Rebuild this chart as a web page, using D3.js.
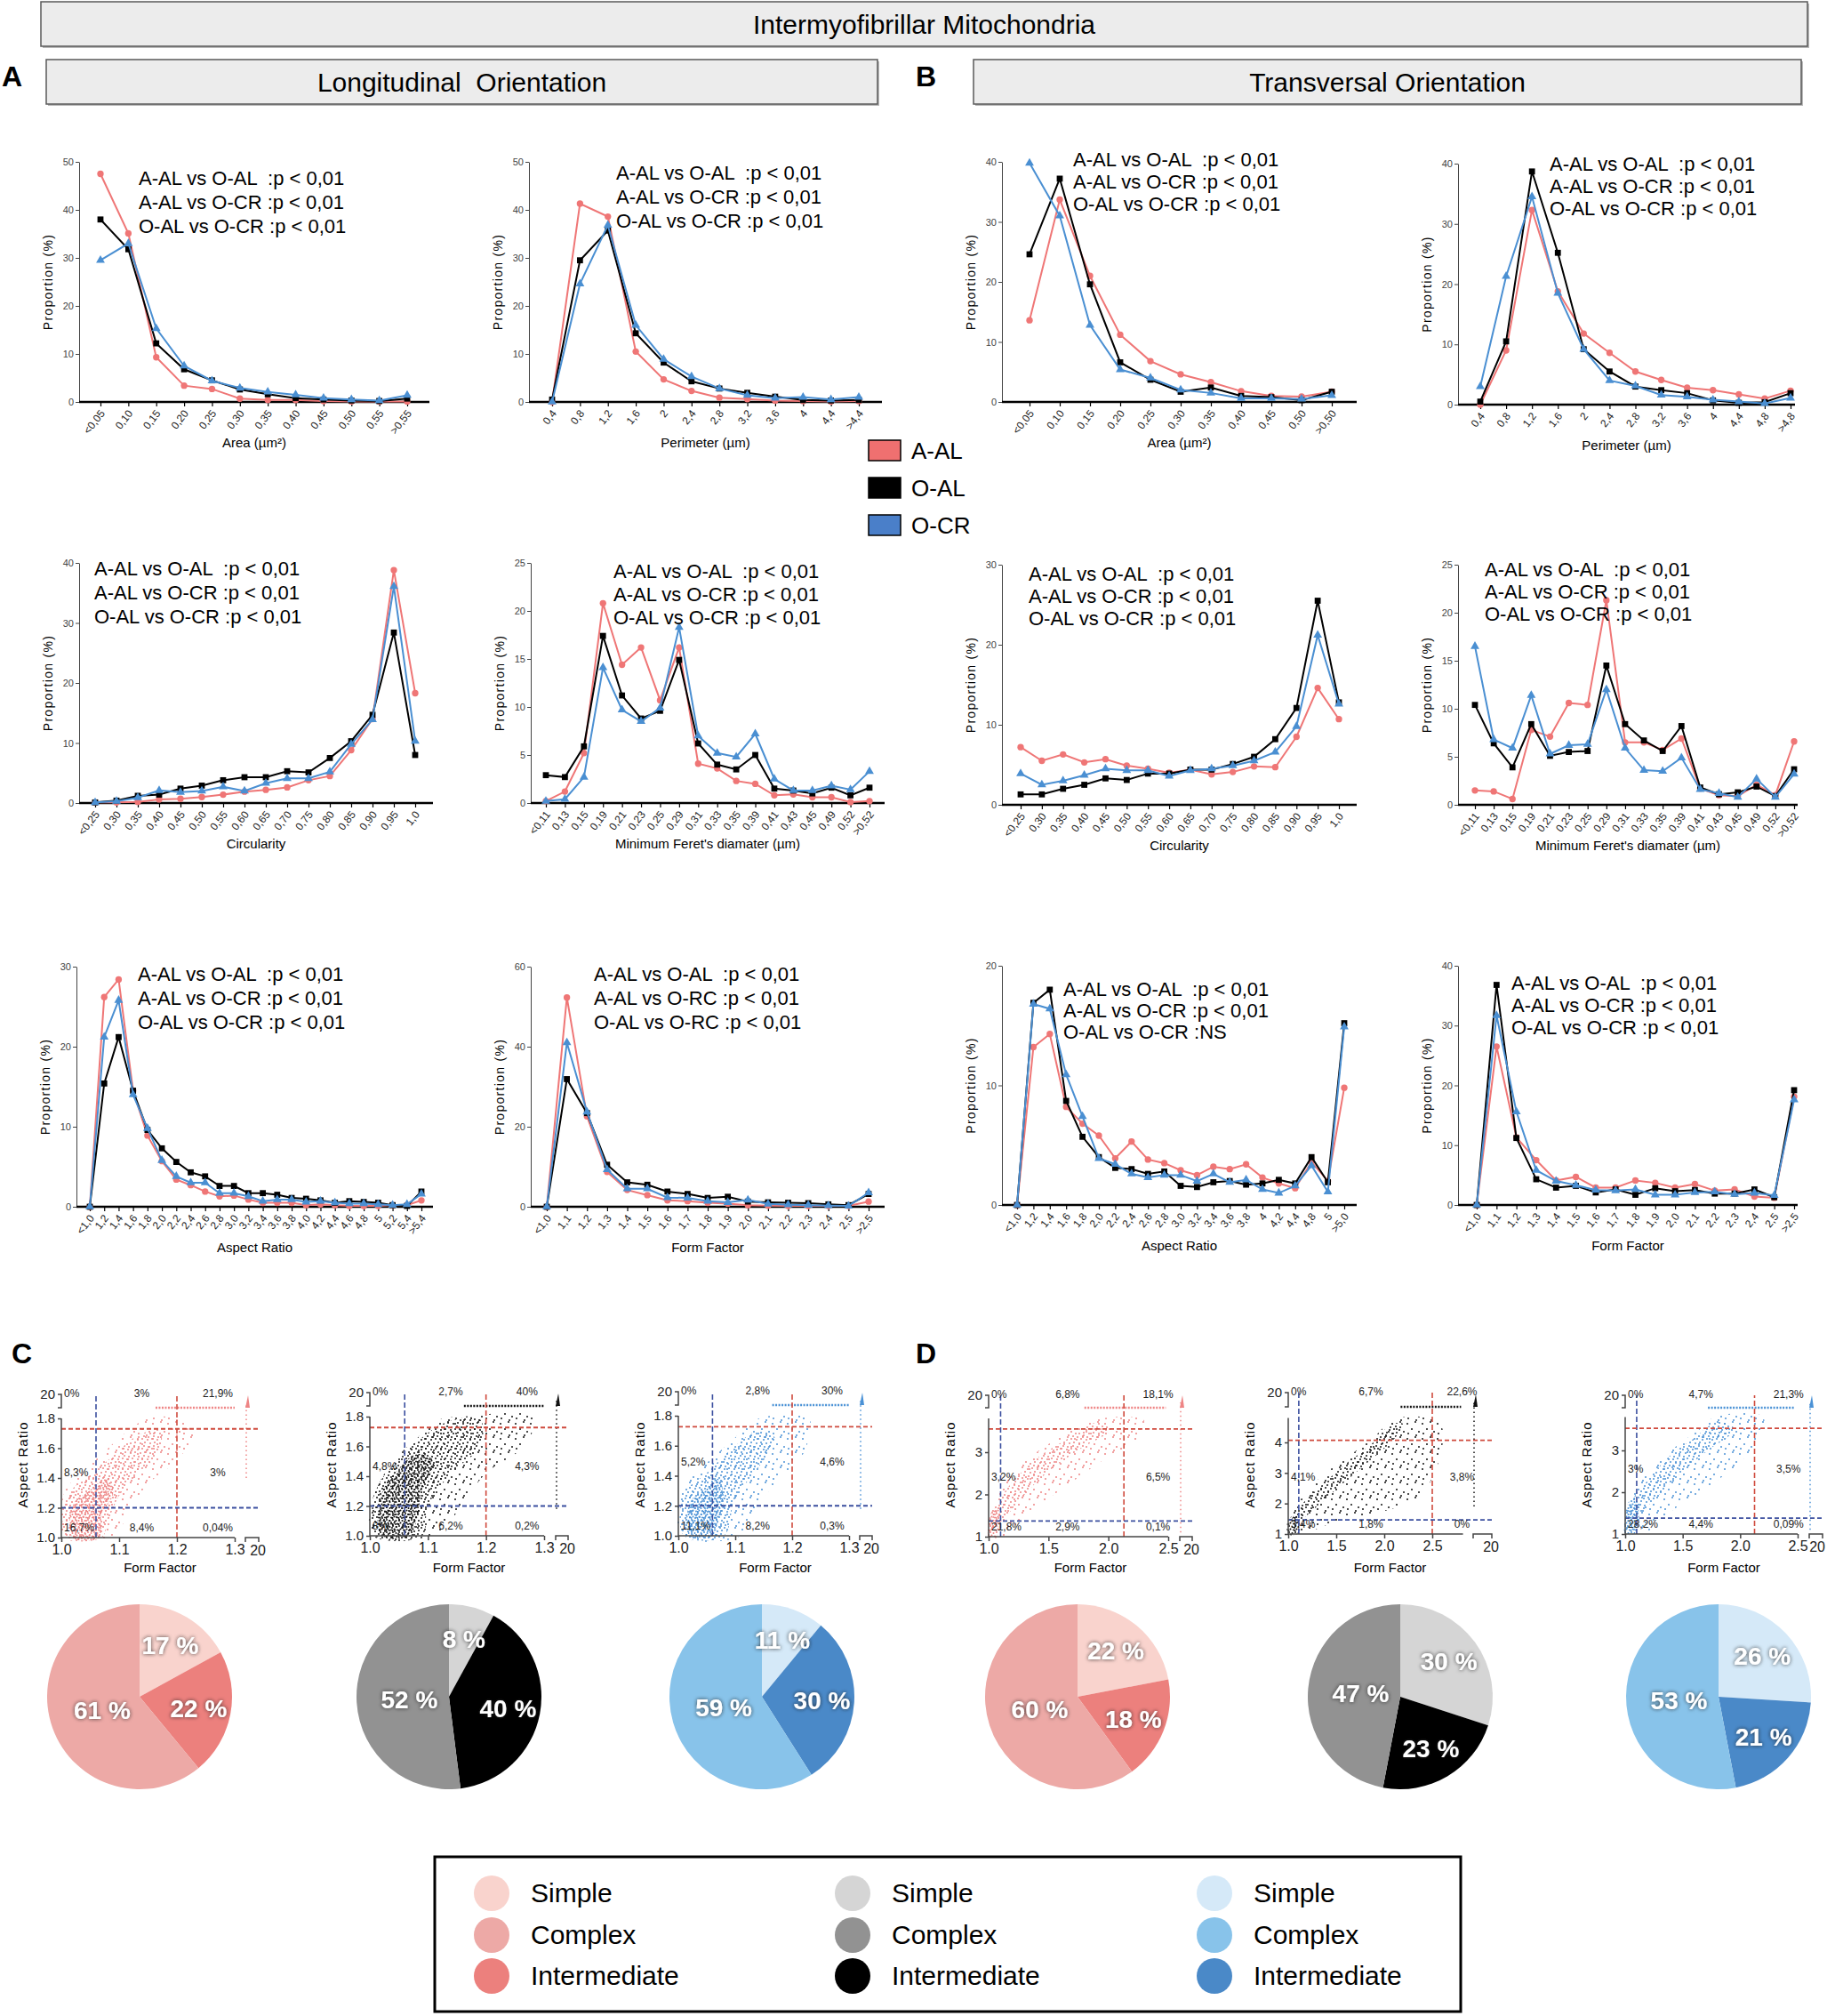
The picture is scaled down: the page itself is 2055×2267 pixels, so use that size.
<!DOCTYPE html>
<html>
<head>
<meta charset="utf-8">
<title>Intermyofibrillar Mitochondria</title>
<script src="https://cdn.jsdelivr.net/npm/d3@7"></script>
<style>
  body { margin: 0; background: #fff; overflow: hidden; }
  text { font-family: "Liberation Sans", Arial, Helvetica, sans-serif; }
</style>
</head>
<body>
<div class="figure"></div>
<script>
// ---------------- data ----------------
const groups = ["A-AL", "O-AL", "O-CR"];

// category labels (x ticks)
const areaLongCats = ["<0,05","0,10","0,15","0,20","0,25","0,30","0,35","0,40","0,45","0,50","0,55",">0,55"];
const areaTransCats = ["<0,05","0,10","0,15","0,20","0,25","0,30","0,35","0,40","0,45","0,50",">0,50"];
const perimLongCats = ["0,4","0,8","1,2","1,6","2","2,4","2,8","3,2","3,6","4","4,4",">4,4"];
const perimTransCats = ["0,4","0,8","1,2","1,6","2","2,4","2,8","3,2","3,6","4","4,4","4,8",">4,8"];
const circCats = ["<0,25","0,30","0,35","0,40","0,45","0,50","0,55","0,60","0,65","0,70","0,75","0,80","0,85","0,90","0,95","1,0"];
const feretCats = ["<0,11","0,13","0,15","0,19","0,21","0,23","0,25","0,29","0,31","0,33","0,35","0,39","0,41","0,43","0,45","0,49","0,52",">0,52"];
const arLongCats = ["<1,0","1,2","1,4","1,6","1,8","2,0","2,2","2,4","2,6","2,8","3,0","3,2","3,4","3,6","3,8","4,0","4,2","4,4","4,6","4,8","5","5,2","5,4",">5,4"];
const arTransCats = ["<1,0","1,2","1,4","1,6","1,8","2,0","2,2","2,4","2,6","2,8","3,0","3,2","3,4","3,6","3,8","4","4,2","4,4","4,8","5",">5,0"];
const ffCats = ["<1,0","1,1","1,2","1,3","1,4","1,5","1,6","1,7","1,8","1,9","2,0","2,1","2,2","2,3","2,4","2,5",">2,5"];

// proportions (%) - longitudinal
const areaLongAAL = [47.5,35.1,9.3,3.4,2.7,0.7,0.4,0.4,0.2,0.1,0.1,0.1];
const areaLongOAL = [38,31.8,12.2,6.8,4.5,2.6,1.6,0.8,0.5,0.3,0.2,0.7];
const areaLongOCR = [29.5,33,15.3,7.5,4.4,2.9,2.1,1.5,0.8,0.5,0.3,1.4];
const perimLongAAL = [0,41.3,38.6,10.5,4.7,2.3,0.9,0.6,0.3,0.2,0.1,0.2];
const perimLongOAL = [0.5,29.5,35.7,14.3,8.2,4.3,2.8,1.9,1.1,0.4,0.3,0.4];
const perimLongOCR = [0,24.6,36.8,16,8.9,5.3,2.8,1.4,0.8,1.0,0.5,1.0];
const circLongAAL = [0.1,0.1,0.2,0.6,0.7,1.0,1.4,1.9,2.2,2.6,3.8,4.5,8.8,14.0,38.8,18.3];
const circLongOAL = [0.1,0.4,1.2,1.4,2.4,2.9,3.8,4.3,4.3,5.3,5.1,7.5,10.3,14.7,28.4,8.0];
const circLongOCR = [0.1,0.3,0.9,2.1,1.8,2.0,2.7,2.0,3.3,4.1,4.1,5.2,9.8,13.9,36.1,10.3];
const feretLongAAL = [0.2,1.2,5.2,20.8,14.4,16.2,10.7,16.2,4.1,3.6,2.3,2.0,0.8,0.9,0.6,0.6,0.1,0.2];
const feretLongOAL = [2.9,2.7,5.9,17.4,11.2,8.8,9.6,14.9,6.2,4.0,3.5,5.0,1.5,1.3,1.0,1.6,0.8,1.6];
const feretLongOCR = [0.2,0.4,2.7,14.1,9.7,8.5,9.9,18.3,7.0,5.2,4.8,7.2,2.5,1.3,1.3,1.8,1.4,3.3];
const arLongAAL = [0,26.2,28.4,14.5,8.9,5.7,3.4,2.7,1.9,1.3,1.4,0.9,0.5,0.5,0.5,0.2,0.3,0.2,0.1,0.1,0.1,0.2,0.2,0.8];
const arLongOAL = [0,15.4,21.2,14.5,9.6,7.3,5.6,4.3,3.8,2.6,2.6,1.7,1.7,1.5,1.1,1.0,0.8,0.5,0.7,0.6,0.5,0.2,0.1,1.9];
const arLongOCR = [0,21.2,25.8,14.0,9.8,5.8,3.8,3.0,3.0,1.7,1.7,1.3,0.7,0.9,0.9,0.6,0.7,0.5,0.4,0.4,0.3,0.2,0.3,1.6];
const ffLongAAL = [0,52.3,22.6,8.7,4.2,2.9,1.6,1.4,1.0,0.8,0.4,0.3,0.2,0.2,0.2,0.2,1.3];
const ffLongOAL = [0,31.9,23.4,10.5,6.1,5.5,3.8,3.2,2.2,2.5,1.3,1.1,1.0,0.9,0.6,0.4,3.2];
const ffLongOCR = [0,41,23.7,9.3,4.5,4.5,2.3,2.2,1.4,1.1,1.7,0.7,0.5,0.4,0.3,0.2,3.5];

// proportions (%) - transversal
const areaTransAAL = [13.6,33.7,21,11.2,6.8,4.6,3.3,1.8,1.0,0.9,1.7];
const areaTransOAL = [24.6,37.2,19.6,6.6,3.7,1.7,2.4,1.0,0.8,0.3,1.7];
const areaTransOCR = [39.8,31,12.8,5.4,4.0,2.0,1.5,0.6,0.6,0.5,1.1];
const perimTransAAL = [0,9,32.3,18.8,11.8,8.6,5.5,4.1,2.8,2.4,1.7,1.0,2.3];
const perimTransOAL = [0.5,10.5,38.7,25.2,9.2,5.5,3.0,2.4,1.9,0.7,0.3,0.4,1.9];
const perimTransOCR = [3.0,21.3,34.5,18.5,9.2,4.0,3.1,1.6,1.3,0.8,0.5,0.2,1.1];
const circTransAAL = [7.2,5.5,6.3,5.3,5.7,4.9,4.5,4.0,4.4,3.8,4.1,4.8,4.7,8.5,14.6,10.7];
const circTransOAL = [1.3,1.3,2.0,2.5,3.3,3.1,3.9,3.9,4.4,4.4,5.1,6.0,8.2,12.1,25.5,12.8];
const circTransOCR = [3.9,2.5,3.0,3.7,4.5,4.3,4.3,3.6,4.3,4.5,4.9,5.5,6.6,9.8,21.2,12.6];
const feretTransAAL = [1.5,1.4,0.6,7.8,7.1,10.6,10.4,21.3,6.5,6.5,5.7,6.9,1.7,1.0,0.9,2.1,1.0,6.6];
const feretTransOAL = [10.4,6.4,3.9,8.4,5.1,5.5,5.6,14.5,8.4,6.7,5.6,8.2,1.8,1.1,1.3,1.9,0.9,3.7];
const feretTransOCR = [16.5,6.8,5.9,11.4,5.3,6.2,6.3,12.0,5.9,3.6,3.5,4.9,1.6,1.2,0.8,2.7,0.8,3.2];
const arTransAAL = [0,13.2,14.3,8.2,6.8,5.8,3.9,5.3,3.8,3.5,2.9,2.5,3.2,3.0,3.4,2.3,1.8,1.4,3.6,2.0,9.8];
const arTransOAL = [0,16.9,18.0,8.7,5.7,4.0,3.1,3.0,2.6,2.8,1.6,1.5,1.9,2.0,1.7,1.8,2.1,1.8,4.0,1.9,15.2];
const arTransOCR = [0,16.8,16.4,10.9,7.4,3.9,3.4,2.6,2.3,2.5,2.5,2.0,2.6,1.9,2.1,1.3,1.0,1.6,3.3,1.1,14.9];
const ffTransAAL = [0,26.5,11.3,7.5,4.1,4.7,2.9,2.9,4.1,3.7,2.9,3.5,2.4,2.6,1.4,1.2,18.1];
const ffTransOAL = [0,36.8,11.2,4.3,2.9,3.2,2.1,2.6,1.7,2.8,2.3,2.5,1.9,1.9,2.6,1.3,19.2];
const ffTransOCR = [0,31.7,15.6,5.8,4.0,3.3,2.5,2.4,2.6,1.7,1.7,2.1,2.2,1.8,2.0,1.6,17.6];

// y tick values
const ticks50 = [0,10,20,30,40,50];
const ticks40 = [0,10,20,30,40];
const ticks30 = [0,10,20,30];
const ticks25 = [0,5,10,15,20,25];
const ticks60 = [0,20,40,60];
const ticks20 = [0,10,20];

// statistics notes
const notesStd = ["A-AL vs O-AL  :p < 0,01", "A-AL vs O-CR :p < 0,01", "O-AL vs O-CR :p < 0,01"];
const notesRC = ["A-AL vs O-AL  :p < 0,01", "A-AL vs O-RC :p < 0,01", "O-AL vs O-RC :p < 0,01"];
const notesNS = ["A-AL vs O-AL  :p < 0,01", "A-AL vs O-CR :p < 0,01", "O-AL vs O-CR :NS"];

// scatter plots (Form Factor vs Aspect Ratio), C1-C3 then D1-D3
const scatXTicks = [[1.0,1.1,1.2,1.3],[1.0,1.1,1.2,1.3],[1.0,1.1,1.2,1.3],[1.0,1.5,2.0,2.5],[1.0,1.5,2.0,2.5],[1.0,1.5,2.0,2.5]];
const scatYTicks = [[1.0,1.2,1.4,1.6,1.8],[1.0,1.2,1.4,1.6,1.8],[1.0,1.2,1.4,1.6,1.8],[1,2,3],[1,2,3,4],[1,2,3]];
const scatThreshFF = [[1.06,1.2],[1.06,1.2],[1.06,1.2],[1.1,2.13],[1.11,2.5],[1.1,2.125]];
const scatThreshAR = [[1.2,1.73],[1.2,1.727],[1.2,1.727],[1.37,3.55],[1.46,4.07],[1.38,3.53]];
const scatPct = [
  ["0%","3%","21,9%","8,3%","3%","16,7%","8,4%","0,04%"],
  ["0%","2,7%","40%","4,8%","4,3%","8%","6,2%","0,2%"],
  ["0%","2,8%","30%","5,2%","4,6%","11,1%","8,2%","0,3%"],
  ["0%","6,8%","18,1%","3,2%","6,5%","21,8%","2,9%","0,1%"],
  ["0%","6,7%","22,6%","4,1%","3,8%","3,4%","1,8%","0%"],
  ["0%","4,7%","21,3%","3%","3,5%","28,2%","4,4%","0,09%"]
];
// FF range of the points beyond the AR break, AR floor of the points beyond the FF break
const scatTopFF = [[1.163,1.3],[1.162,1.3],[1.165,1.3],[1.8,2.48],[2.17,2.8],[1.72,2.47]];
const scatRightAR = [1.4,1.18,1.18,1.1,1.9,1.1];
// estimated outlines of the point clouds [FF, AR]: sparse, medium and dense parts
const cloudOuter = [
  [[1.005,1.0],[1.005,1.3],[1.03,1.42],[1.07,1.56],[1.11,1.7],[1.15,1.8],[1.2,1.8],[1.23,1.7],[1.2,1.52],[1.15,1.36],[1.12,1.2],[1.10,1.05],[1.08,1.0]],
  [[1.005,1.0],[1.005,1.25],[1.04,1.5],[1.08,1.65],[1.12,1.78],[1.16,1.8],[1.28,1.8],[1.27,1.62],[1.2,1.42],[1.16,1.22],[1.13,1.05],[1.11,1.0]],
  [[1.005,1.0],[1.005,1.3],[1.04,1.45],[1.09,1.62],[1.14,1.78],[1.18,1.8],[1.23,1.78],[1.22,1.55],[1.17,1.35],[1.13,1.15],[1.11,1.0]],
  [[1.0,1.0],[1.0,1.4],[1.06,1.9],[1.2,2.5],[1.4,3.0],[1.65,3.45],[1.85,3.75],[2.3,3.75],[2.25,3.3],[1.95,2.8],[1.65,2.2],[1.35,1.6],[1.2,1.2],[1.12,1.0]],
  [[1.0,1.0],[1.0,1.5],[1.12,2.1],[1.35,2.9],[1.65,3.6],[1.9,4.2],[2.1,4.75],[2.45,4.8],[2.6,4.5],[2.55,3.2],[2.35,2.2],[1.95,1.7],[1.45,1.35],[1.15,1.0]],
  [[1.0,1.0],[1.0,1.45],[1.07,2.0],[1.22,2.55],[1.42,3.05],[1.62,3.45],[1.78,3.8],[2.2,3.8],[2.15,3.2],[1.95,2.6],[1.65,2.0],[1.38,1.5],[1.22,1.1],[1.12,1.0]]
];
const cloudMid = [
  [[1.01,1.0],[1.01,1.28],[1.05,1.42],[1.09,1.55],[1.13,1.68],[1.17,1.72],[1.17,1.58],[1.13,1.42],[1.1,1.28],[1.08,1.1],[1.07,1.0]],
  [[1.01,1.0],[1.01,1.3],[1.05,1.52],[1.09,1.66],[1.13,1.76],[1.19,1.78],[1.19,1.6],[1.14,1.42],[1.1,1.2],[1.09,1.0]],
  [[1.01,1.0],[1.01,1.28],[1.05,1.42],[1.1,1.6],[1.14,1.7],[1.17,1.65],[1.14,1.45],[1.1,1.25],[1.08,1.0]],
  [[1.02,1.2],[1.08,1.8],[1.2,2.3],[1.4,2.85],[1.65,3.3],[1.9,3.7],[2.02,3.55],[1.75,3.05],[1.48,2.5],[1.27,1.9],[1.12,1.4]],
  [[1.03,1.4],[1.15,2.0],[1.35,2.6],[1.6,3.3],[1.85,3.9],[2.08,4.6],[2.2,4.6],[2.1,4.1],[1.85,3.4],[1.55,2.6],[1.3,1.9],[1.12,1.45]],
  [[1.02,1.3],[1.08,1.9],[1.2,2.3],[1.38,2.85],[1.58,3.25],[1.82,3.7],[1.95,3.5],[1.72,3.0],[1.48,2.45],[1.28,1.9],[1.13,1.5]]
];
const cloudCore = [
  [[1.02,1.0],[1.02,1.22],[1.05,1.32],[1.08,1.4],[1.09,1.3],[1.07,1.15],[1.065,1.0]],
  [[1.02,1.0],[1.02,1.28],[1.05,1.45],[1.08,1.55],[1.11,1.5],[1.09,1.3],[1.08,1.1],[1.07,1.0]],
  [[1.02,1.0],[1.02,1.22],[1.05,1.32],[1.07,1.38],[1.08,1.25],[1.07,1.1],[1.06,1.0]],
  [[1.0,1.0],[1.0,1.3],[1.04,1.65],[1.1,1.6],[1.09,1.25],[1.06,1.0]],
  [[1.0,1.0],[1.0,1.35],[1.04,1.6],[1.1,1.55],[1.12,1.25],[1.1,1.0]],
  [[1.0,1.0],[1.0,1.4],[1.04,1.8],[1.1,1.75],[1.12,1.35],[1.08,1.0]]
];

// pie charts: Simple, Intermediate, Complex (%)
const pieNames = ["Simple", "Intermediate", "Complex"];
const pieC = [[17,22,61],[8,40,52],[11,30,59]];
const pieD = [[22,18,60],[30,23,47],[26,21,53]];
const legendNames = ["Simple", "Complex", "Intermediate"];

// ---------------- drawing ----------------
const W = 2055, H = 2267;
const svg = d3.select(".figure").append("svg")
  .attr("width", W).attr("height", H)
  .style("background-color", "white");

const seriesColor = ["#ef7676", "#000000", "#4a8fd2"];
const scatColor = ["#ee8585", "#111111", "#4b92d6"];
const pieFill = [
  ["#f9d3cd", "#ec807d", "#eda9a6"],
  ["#d5d5d5", "#000000", "#929292"],
  ["#d5e9f8", "#4a89c8", "#88c3ea"]
];

const defs = svg.append("defs");
defs.append("filter").attr("id", "glow")
  .attr("x", "-30%").attr("y", "-30%").attr("width", "160%").attr("height", "160%")
  .append("feDropShadow")
  .attr("dx", 0).attr("dy", 0).attr("stdDeviation", 2.2)
  .attr("flood-color", "#222").attr("flood-opacity", 0.85);

// dotted fills for the scatter clouds
const tiles = [
  { size: 17, r: 1.0, pts: [[2,3],[11,1],[7,9],[15,12],[3,14],[12,16]] },
  { size: 11, r: 1.0, pts: [[1,2],[6,1],[4,6],[9,5],[2,10],[8,9]] },
  { size: 7, r: 1.0, pts: [[1,1],[4.5,2],[2.5,4.5],[6,5.5],[0.5,6]] }
];
scatColor.forEach((c, ci) => tiles.forEach((t, ti) => {
  const pat = defs.append("pattern").attr("id", "dots" + ci + ti)
    .attr("patternUnits", "userSpaceOnUse")
    .attr("width", t.size).attr("height", t.size);
  pat.selectAll("circle").data(t.pts).join("circle")
    .attr("cx", d => d[0]).attr("cy", d => d[1]).attr("r", t.r).attr("fill", c);
}));

// header boxes
function headerBox(x, y, w, h, label, size) {
  svg.append("rect").attr("x", x + 2).attr("y", y + 2).attr("width", w).attr("height", h).attr("fill", "#b9b9b9");
  svg.append("rect").attr("x", x).attr("y", y).attr("width", w).attr("height", h)
    .attr("fill", "#ececec").attr("stroke", "#5a5a5a").attr("stroke-width", 1.5);
  svg.append("text").attr("x", x + w / 2).attr("y", y + h / 2 + size * 0.36)
    .attr("text-anchor", "middle").attr("font-size", size).style("white-space", "pre")
    .text(label);
}
headerBox(46, 2, 1987, 50, "Intermyofibrillar Mitochondria", 30);
headerBox(52, 67, 935, 50, "Longitudinal  Orientation", 30);
headerBox(1095, 67, 931, 50, "Transversal Orientation", 30);

[["A", 2, 97], ["B", 1030, 97], ["C", 13, 1533], ["D", 1030, 1533]].forEach(([t, x, y]) => {
  svg.append("text").attr("x", x).attr("y", y).attr("font-size", 32).attr("font-weight", "bold").text(t);
});

// ---- line charts ----
const panels = [
  { cats: areaLongCats, s: [areaLongAAL, areaLongOAL, areaLongOCR], yTicks: ticks50, x0: 89, x1: 483, p0: 113, p1: 458, yt: 182, yb: 452, title: "Area (µm²)", notes: notesStd, nx: 156, ny: 208, nd: 27 },
  { cats: perimLongCats, s: [perimLongAAL, perimLongOAL, perimLongOCR], yTicks: ticks50, x0: 595, x1: 992, p0: 621, p1: 966, yt: 182, yb: 452, title: "Perimeter (µm)", notes: notesStd, nx: 693, ny: 202, nd: 27 },
  { cats: areaTransCats, s: [areaTransAAL, areaTransOAL, areaTransOCR], yTicks: ticks40, x0: 1127, x1: 1526, p0: 1158, p1: 1498, yt: 182, yb: 452, title: "Area (µm²)", notes: notesStd, nx: 1207, ny: 187, nd: 25 },
  { cats: perimTransCats, s: [perimTransAAL, perimTransOAL, perimTransOCR], yTicks: ticks40, x0: 1640, x1: 2019, p0: 1665, p1: 2014, yt: 184, yb: 455, title: "Perimeter (µm)", notes: notesStd, nx: 1743, ny: 192, nd: 25 },
  { cats: circCats, s: [circLongAAL, circLongOAL, circLongOCR], yTicks: ticks40, x0: 89, x1: 487, p0: 107, p1: 467, yt: 633, yb: 903, title: "Circularity", notes: notesStd, nx: 106, ny: 647, nd: 27 },
  { cats: feretCats, s: [feretLongAAL, feretLongOAL, feretLongOCR], yTicks: ticks25, x0: 597, x1: 995, p0: 614, p1: 978, yt: 633, yb: 903, title: "Minimum Feret's diamater (µm)", notes: notesStd, nx: 690, ny: 650, nd: 26 },
  { cats: circCats, s: [circTransAAL, circTransOAL, circTransOCR], yTicks: ticks30, x0: 1127, x1: 1526, p0: 1148, p1: 1506, yt: 635, yb: 905, title: "Circularity", notes: notesStd, nx: 1157, ny: 653, nd: 25 },
  { cats: feretCats, s: [feretTransAAL, feretTransOAL, feretTransOCR], yTicks: ticks25, x0: 1640, x1: 2022, p0: 1659, p1: 2018, yt: 635, yb: 905, title: "Minimum Feret's diamater (µm)", notes: notesStd, nx: 1670, ny: 648, nd: 25 },
  { cats: arLongCats, s: [arLongAAL, arLongOAL, arLongOCR], yTicks: ticks30, x0: 86, x1: 487, p0: 101, p1: 474, yt: 1087, yb: 1357, title: "Aspect Ratio", notes: notesStd, nx: 155, ny: 1103, nd: 27 },
  { cats: ffCats, s: [ffLongAAL, ffLongOAL, ffLongOCR], yTicks: ticks60, x0: 597, x1: 995, p0: 615, p1: 977, yt: 1087, yb: 1357, title: "Form Factor", notes: notesRC, nx: 668, ny: 1103, nd: 27 },
  { cats: arTransCats, s: [arTransAAL, arTransOAL, arTransOCR], yTicks: ticks20, x0: 1127, x1: 1526, p0: 1144, p1: 1512, yt: 1086, yb: 1355, title: "Aspect Ratio", notes: notesNS, nx: 1196, ny: 1120, nd: 24 },
  { cats: ffCats, s: [ffTransAAL, ffTransOAL, ffTransOCR], yTicks: ticks40, x0: 1640, x1: 2022, p0: 1661, p1: 2018, yt: 1086, yb: 1355, title: "Form Factor", notes: notesStd, nx: 1700, ny: 1113, nd: 25 }
];

function lineChart(p) {
  const g = svg.append("g");
  const x = d3.scalePoint().domain(p.cats).range([p.p0, p.p1]);
  const y = d3.scaleLinear().domain([0, d3.max(p.yTicks)]).range([p.yb, p.yt]);

  // y axis
  const yAx = g.append("g").attr("transform", `translate(${p.x0},0)`)
    .call(d3.axisLeft(y).tickValues(p.yTicks).tickSize(4).tickSizeOuter(0).tickPadding(2));
  yAx.select(".domain").attr("stroke", "#444").attr("stroke-width", 1);
  yAx.selectAll(".tick line").attr("stroke", "#444");
  yAx.selectAll(".tick text").attr("font-size", 11).attr("fill", "#444");

  // x axis
  const xAx = g.append("g").attr("transform", `translate(0,${p.yb})`)
    .call(d3.axisBottom(x).tickSize(5).tickSizeOuter(0));
  xAx.select(".domain").remove();
  xAx.selectAll(".tick line").attr("stroke", "#000").attr("stroke-width", 1.2);
  xAx.selectAll(".tick text")
    .attr("x", 0).attr("y", 0).attr("dy", 0)
    .attr("transform", "translate(5,13) rotate(-52)")
    .attr("text-anchor", "end").attr("font-size", 12).attr("fill", "#222");
  g.append("line").attr("x1", p.x0).attr("x2", p.x1).attr("y1", p.yb).attr("y2", p.yb)
    .attr("stroke", "#000").attr("stroke-width", 2.5);

  // titles
  g.append("text").attr("transform", `translate(${p.x0 - 30},${(p.yt + p.yb) / 2}) rotate(-90)`)
    .attr("text-anchor", "middle").attr("font-size", 14).attr("letter-spacing", 1.3)
    .text("Proportion (%)");
  g.append("text").attr("x", (p.x0 + p.x1) / 2).attr("y", p.yb + 51)
    .attr("text-anchor", "middle").attr("font-size", 15).text(p.title);

  // series
  const line = d3.line().x((d, i) => x(p.cats[i])).y(d => y(d));
  const symbols = [d3.symbolCircle, d3.symbolSquare, d3.symbolTriangle];
  const sizes = [42, 46, 42];
  p.s.forEach((vals, k) => {
    g.append("path").datum(vals).attr("d", line)
      .attr("fill", "none").attr("stroke", seriesColor[k]).attr("stroke-width", 2);
    g.selectAll(null).data(vals).join("path")
      .attr("transform", (d, i) => `translate(${x(p.cats[i])},${y(d)})`)
      .attr("d", d3.symbol(symbols[k], sizes[k]))
      .attr("fill", seriesColor[k]);
  });

  // statistics
  g.selectAll(null).data(p.notes).join("text")
    .attr("x", p.nx).attr("y", (d, i) => p.ny + i * p.nd)
    .attr("font-size", 22).style("white-space", "pre")
    .text(d => d);
}
panels.forEach(lineChart);

// series legend
const legendFill = ["#ef7070", "#000000", "#4a7fc9"];
groups.forEach((name, i) => {
  const yy = 495 + i * 42;
  svg.append("rect").attr("x", 977).attr("y", yy).attr("width", 36).attr("height", 23)
    .attr("fill", legendFill[i]).attr("stroke", "#000").attr("stroke-width", 1.5);
  svg.append("text").attr("x", 1025).attr("y", yy + 21).attr("font-size", 26).text(name);
});

// ---- scatter plots ----
const scatLayout = [
  { x0: 69, x1: 264, xd: [1.0, 1.3], xEnd: 1.3, y0: 1729, y1: 1595, yd: [1.0, 1.8], yEnd: 1.8, bx: [276, 291], by: [1583, 1568], midY: 1660, yf: ".1f" },
  { x0: 416, x1: 612, xd: [1.0, 1.3], xEnd: 1.3, y0: 1727, y1: 1593, yd: [1.0, 1.8], yEnd: 1.8, bx: [625, 639], by: [1581, 1566], midY: 1653, yf: ".1f" },
  { x0: 763, x1: 955, xd: [1.0, 1.3], xEnd: 1.3, y0: 1727, y1: 1592, yd: [1.0, 1.8], yEnd: 1.8, bx: [967, 981], by: [1580, 1565], midY: 1648, yf: ".1f" },
  { x0: 1112, x1: 1314, xd: [1, 2.5], xEnd: 2.5, y0: 1728, y1: 1633, yd: [1, 3], yEnd: 3.8, bx: [1327, 1341], by: [1583, 1569], midY: 1665, yf: "d" },
  { x0: 1449, x1: 1611, xd: [1, 2.5], xEnd: 2.82, y0: 1725, y1: 1622, yd: [1, 4], yEnd: 4.8, bx: [1657, 1678], by: [1582, 1566], midY: 1665, yf: "d" },
  { x0: 1828, x1: 2022, xd: [1, 2.5], xEnd: 2.5, y0: 1725, y1: 1631, yd: [1, 3], yEnd: 3.8, bx: [2035, 2050], by: [1583, 1569], midY: 1656, yf: "d" }
];

function scatterPlot(L, k) {
  const g = svg.append("g");
  const ci = k % 3;
  const ax = "#444";
  const x = d3.scaleLinear().domain(L.xd).range([L.x0, L.x1]);
  const y = d3.scaleLinear().domain(L.yd).range([L.y0, L.y1]);

  // point clouds
  const cloud = d3.line().x(d => x(d[0])).y(d => y(d[1])).curve(d3.curveCatmullRomClosed);
  [cloudOuter, cloudMid, cloudCore].forEach((set, j) => {
    g.append("path").attr("d", cloud(set[k])).attr("fill", `url(#dots${ci}${j})`);
  });

  // points beyond the axis breaks
  const yTop = L.by[0], xBr = L.bx[0] + 1;
  g.append("line").attr("x1", x(scatTopFF[k][0])).attr("x2", x(scatTopFF[k][1]))
    .attr("y1", yTop).attr("y2", yTop)
    .attr("stroke", scatColor[ci]).attr("stroke-width", 2.5).attr("stroke-dasharray", "2,1.5");
  g.append("line").attr("x1", xBr).attr("x2", xBr)
    .attr("y1", y(scatRightAR[k])).attr("y2", yTop - 6)
    .attr("stroke", scatColor[ci]).attr("stroke-width", 1.5).attr("stroke-dasharray", "1.5,3.5");
  g.append("path").attr("d", `M${xBr - 1},${yTop}L${xBr + 2},${yTop - 14}L${xBr + 4},${yTop}Z`)
    .attr("fill", scatColor[ci]);

  // gates
  const blue = "#3b4f9f", red = "#cf4a3d";
  [[scatThreshFF[k][0], blue], [scatThreshFF[k][1], red]].forEach(([v, c]) => {
    g.append("line").attr("x1", x(v)).attr("x2", x(v)).attr("y1", L.y0).attr("y2", L.by[1])
      .attr("stroke", c).attr("stroke-width", 1.6).attr("stroke-dasharray", "6,3");
  });
  [[scatThreshAR[k][0], blue], [scatThreshAR[k][1], red]].forEach(([v, c]) => {
    g.append("line").attr("x1", L.x0).attr("x2", L.bx[1]).attr("y1", y(v)).attr("y2", y(v))
      .attr("stroke", c).attr("stroke-width", 1.8).attr("stroke-dasharray", "5,3");
  });

  // y axis with break
  const yAx = g.append("g").attr("transform", `translate(${L.x0},0)`)
    .call(d3.axisLeft(y).tickValues(scatYTicks[k]).tickFormat(d3.format(L.yf)).tickSize(4).tickPadding(3));
  yAx.select(".domain").remove();
  yAx.selectAll(".tick line").attr("stroke", ax).attr("stroke-width", 1.5);
  yAx.selectAll(".tick text").attr("font-size", 15).attr("fill", "#222");
  g.append("line").attr("x1", L.x0).attr("x2", L.x0).attr("y1", L.y0).attr("y2", y(L.yEnd))
    .attr("stroke", ax).attr("stroke-width", 1.5);
  g.append("path").attr("d", `M${L.x0 - 4},${L.by[0]}H${L.x0}V${L.by[1]}H${L.x0 - 4}`)
    .attr("fill", "none").attr("stroke", ax).attr("stroke-width", 1.5);
  g.append("text").attr("x", L.x0 - 7).attr("y", L.by[1] + 5).attr("text-anchor", "end")
    .attr("font-size", 15).attr("fill", "#222").text("20");

  // x axis with break
  const xAx = g.append("g").attr("transform", `translate(0,${L.y0})`)
    .call(d3.axisBottom(x).tickValues(scatXTicks[k]).tickFormat(d3.format(".1f")).tickSize(5).tickPadding(3));
  xAx.select(".domain").remove();
  xAx.selectAll(".tick line").attr("stroke", ax).attr("stroke-width", 1.5);
  xAx.selectAll(".tick text").attr("font-size", 16).attr("fill", "#222");
  g.append("line").attr("x1", L.x0).attr("x2", x(L.xEnd)).attr("y1", L.y0).attr("y2", L.y0)
    .attr("stroke", ax).attr("stroke-width", 1.5);
  g.append("path").attr("d", `M${L.bx[0]},${L.y0 + 5}V${L.y0}H${L.bx[1]}V${L.y0 + 5}`)
    .attr("fill", "none").attr("stroke", ax).attr("stroke-width", 1.5);
  // keep the "20" label inside the page
  const lx = Math.min(L.bx[1] + 8, W - 2);
  g.append("text").attr("x", lx).attr("y", L.y0 + 20).attr("text-anchor", "end")
    .attr("font-size", 16).attr("fill", "#222").text("20");

  // titles
  g.append("text").attr("transform", `translate(${L.x0 - 38},1647) rotate(-90)`)
    .attr("text-anchor", "middle").attr("font-size", 15).attr("letter-spacing", 1).text("Aspect Ratio");
  g.append("text").attr("x", (L.x0 + L.bx[1]) / 2).attr("y", 1768)
    .attr("text-anchor", "middle").attr("font-size", 15).text("Form Factor");

  // quadrant percentages
  const ff = scatThreshFF[k];
  const cols = [L.x0 + 3, (x(ff[0]) + x(ff[1])) / 2 + 6, (x(ff[1]) + L.bx[1]) / 2];
  const rows = [L.by[1] + 3, L.midY, L.y0 - 7];
  const cells = [[0,0],[0,1],[0,2],[1,0],[1,2],[2,0],[2,1],[2,2]];
  g.selectAll(null).data(scatPct[k]).join("text")
    .attr("x", (d, i) => cols[cells[i][1]])
    .attr("y", (d, i) => rows[cells[i][0]])
    .attr("text-anchor", (d, i) => cells[i][1] === 0 ? "start" : "middle")
    .attr("font-size", 12).attr("fill", "#222")
    .text(d => d);
}
scatLayout.forEach(scatterPlot);

// ---- pies ----
const pieCx = [157, 505, 857, 1212, 1575, 1933];
const pieCy = 1908, R = 104;
const pie = d3.pie().sort(null).value(d => d);
const arc = d3.arc().innerRadius(0).outerRadius(R);
pieC.concat(pieD).forEach((vals, k) => {
  const ci = k % 3;
  const g = svg.append("g").attr("transform", `translate(${pieCx[k]},${pieCy})`);
  const slices = pie(vals);
  g.selectAll("path").data(slices).join("path")
    .attr("d", arc).attr("fill", (d, i) => pieFill[ci][i]);
  g.selectAll("text").data(slices).join("text")
    .attr("transform", (d, i) => {
      const r = i < 2 ? R * 0.65 : R * 0.43;
      const c = d3.arc().innerRadius(r).outerRadius(r).centroid(d);
      return `translate(${c[0]},${c[1] + 10})`;
    })
    .attr("text-anchor", "middle").attr("font-size", 28).attr("font-weight", "bold")
    .attr("fill", "#fff").attr("filter", "url(#glow)")
    .text(d => d.data + " %");
});

// ---- class legend ----
svg.append("rect").attr("x", 489).attr("y", 2088).attr("width", 1154).attr("height", 174)
  .attr("fill", "#fff").attr("stroke", "#000").attr("stroke-width", 3);
const legCx = [553, 959, 1366];
const legRows = [2129, 2176, 2222];
legCx.forEach((cx, ci) => {
  legendNames.forEach((name, r) => {
    const idx = pieNames.indexOf(name);
    svg.append("circle").attr("cx", cx).attr("cy", legRows[r]).attr("r", 20).attr("fill", pieFill[ci][idx]);
    svg.append("text").attr("x", cx + 44).attr("y", legRows[r] + 10).attr("font-size", 30).text(name);
  });
});
</script>
</body>
</html>
